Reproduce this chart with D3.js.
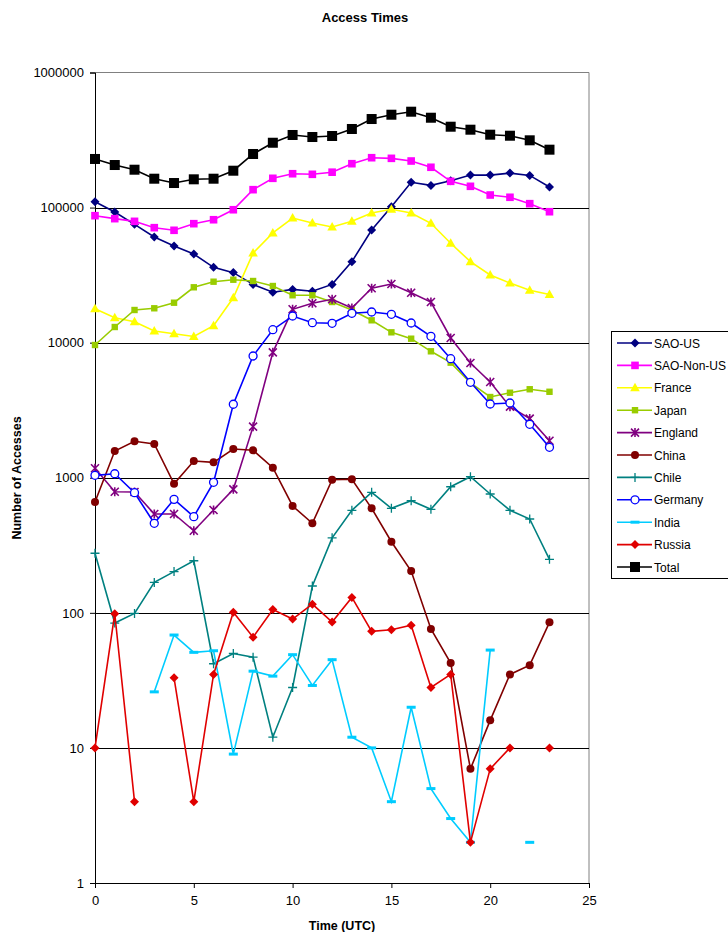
<!DOCTYPE html>
<html>
<head>
<meta charset="utf-8">
<script src="https://cdn.jsdelivr.net/npm/d3@7"></script>
<style>
  body { margin: 0; background: #fff; }
  text { font-family: "Liberation Sans", Arial, sans-serif; }
</style>
</head>
<body>
<div id="chart"></div>
<script>
// data (accesses per UTC hour)
var hours = [0, 1, 2, 3, 4, 5, 6, 7, 8, 9, 10, 11, 12, 13, 14, 15, 16, 17, 18, 19, 20, 21, 22, 23];

var saoUS = [110500, 92800, 75200, 60600, 51900, 45300, 36100, 33000, 27000, 23600, 24800, 24000, 27000, 39800, 68200, 101500, 154000, 146000, 158000, 174000, 174000, 180000, 173000, 142000];
var saoNonUS = [87100, 82800, 79100, 71000, 67900, 76000, 81300, 96400, 135700, 164700, 178100, 176300, 182800, 211300, 234000, 231500, 221200, 198800, 156500, 143700, 123900, 119200, 106900, 93200];
var france = [17800, 15300, 14300, 12200, 11650, 11100, 13350, 21500, 46100, 64900, 83700, 76900, 71800, 79100, 91200, 97100, 91200, 76500, 54400, 39800, 31700, 27600, 24400, 22700];
var japan = [9610, 13060, 17450, 17970, 19760, 25700, 28270, 29240, 28610, 26270, 22430, 22430, 20000, 17450, 14640, 11930, 10700, 8630, 7110, 5030, 3960, 4260, 4520, 4330];
var england = [1175, 788, 784, 539, 539, 405, 577, 821, 2390, 8480, 17660, 19560, 20940, 18060, 25260, 27190, 23440, 20000, 10830, 7070, 5115, 3360, 2740, 1880];
var china = [661, 1578, 1862, 1778, 903, 1330, 1301, 1633, 1596, 1187, 618, 460, 966, 974, 594, 336, 204, 76, 42.5, 7, 16, 35, 41, 85];
var chile = [276, 84, 99, 168, 202, 243, 42, 50, 47, 12, 28, 158, 359, 574, 780, 594, 676, 584, 858, 1018, 758, 574, 495, 249];
var germany = [1042, 1071, 775, 460, 692, 515, 925, 3500, 7965, 12470, 15750, 14060, 13910, 16490, 16870, 16220, 13980, 11140, 7607, 5088, 3515, 3575, 2488, 1680];
var india = [null, null, null, 26, 68.5, 51, 52.4, 9, 37, 34, 49, 29, 45, 12, 10, 4, 20, 5, 3, 2, 53, null, 2, null];
var russia = [10, 98.5, 4, null, 33, 4, 35, 101, 66, 106, 90, 116, 85.5, 130, 73, 75, 81, 28, 35, 2, 7, 10, null, 10];
var total = [229000, 206600, 190700, 163600, 152000, 161900, 163600, 187500, 249300, 302000, 344700, 333000, 338800, 381800, 452500, 487000, 512600, 462600, 396900, 377200, 346400, 340400, 314800, 268300];

var seriesNames = ["SAO-US", "SAO-Non-US", "France", "Japan", "England", "China", "Chile", "Germany", "India", "Russia", "Total"];
var yTicks = [1, 10, 100, 1000, 10000, 100000, 1000000];
var xTicks = [0, 5, 10, 15, 20, 25];

var series = [
  {name: seriesNames[0], values: saoUS, color: "#000080", marker: "diamond"},
  {name: seriesNames[1], values: saoNonUS, color: "#ff00ff", marker: "square"},
  {name: seriesNames[2], values: france, color: "#ffff00", marker: "triangle"},
  {name: seriesNames[3], values: japan, color: "#99cc00", marker: "smallsquare"},
  {name: seriesNames[4], values: england, color: "#800080", marker: "star"},
  {name: seriesNames[5], values: china, color: "#800000", marker: "dot"},
  {name: seriesNames[6], values: chile, color: "#008080", marker: "plus"},
  {name: seriesNames[7], values: germany, color: "#0000ff", marker: "ring"},
  {name: seriesNames[8], values: india, color: "#00ccff", marker: "dash"},
  {name: seriesNames[9], values: russia, color: "#e00000", marker: "diamond"},
  {name: seriesNames[10], values: total, color: "#000000", marker: "bigsquare"}
];

var marg = {top: 72.5, right: 139, bottom: 49, left: 95};
var W = 728, H = 932;
var width = W - marg.left - marg.right;
var height = H - marg.top - marg.bottom;

var svg = d3.select("#chart")
  .append("svg")
    .attr("width", W)
    .attr("height", H);

var x = d3.scaleLinear().domain([0, 25]).range([marg.left, marg.left + width]);
var y = d3.scaleLog().domain([1, 1000000]).range([marg.top + height, marg.top]);

// plot frame (top + right in grey)
svg.append("path")
  .attr("d", "M" + x(0) + "," + y(1000000) + "H" + x(25) + "V" + y(1))
  .attr("fill", "none")
  .attr("stroke", "#808080")
  .attr("stroke-width", 1);

// gridlines
svg.append("g")
  .selectAll("line")
  .data(yTicks.slice(1, -1))
  .enter()
  .append("line")
    .attr("x1", x(0))
    .attr("x2", x(25))
    .attr("y1", function(d){ return Math.round(y(d)) + 0.5; })
    .attr("y2", function(d){ return Math.round(y(d)) + 0.5; })
    .attr("stroke", "#000")
    .attr("stroke-width", 1);

// axes
var yAxis = svg.append("g")
  .attr("transform", "translate(" + x(0) + ",0)")
  .call(d3.axisLeft(y).tickValues(yTicks).tickFormat(d3.format("d")).tickSize(5).tickPadding(6));
var xAxis = svg.append("g")
  .attr("transform", "translate(0," + y(1) + ")")
  .call(d3.axisBottom(x).tickValues(xTicks).tickSize(5).tickPadding(8));

[yAxis, xAxis].forEach(function(a){
  a.select(".domain").attr("stroke", "#000");
  a.selectAll(".tick line").attr("stroke", "#000");
  a.selectAll("text").attr("font-size", 13).attr("fill", "#000")
    .attr("font-family", "Liberation Sans, Arial, sans-serif");
});

// marker shapes
function drawMarker(g, type, color) {
  if (type == "diamond") {
    g.append("path").attr("d", "M0,-4.5L4.5,0L0,4.5L-4.5,0Z").attr("fill", color);
  } else if (type == "square") {
    g.append("rect").attr("x", -3.8).attr("y", -3.8).attr("width", 7.6).attr("height", 7.6).attr("fill", color);
  } else if (type == "smallsquare") {
    g.append("rect").attr("x", -3.2).attr("y", -3.2).attr("width", 6.4).attr("height", 6.4).attr("fill", color);
  } else if (type == "bigsquare") {
    g.append("rect").attr("x", -5).attr("y", -5).attr("width", 10).attr("height", 10).attr("fill", color);
  } else if (type == "triangle") {
    g.append("path").attr("d", "M0,-5L4.8,3.5L-4.8,3.5Z").attr("fill", color);
  } else if (type == "star") {
    g.append("path").attr("d", "M-4,-4L4,4M-4,4L4,-4M0,-4.5V4.5")
      .attr("stroke", color).attr("stroke-width", 1.6).attr("fill", "none");
  } else if (type == "dot") {
    g.append("circle").attr("r", 4).attr("fill", color);
  } else if (type == "plus") {
    g.append("path").attr("d", "M-4.5,0H4.5M0,-4.5V4.5")
      .attr("stroke", color).attr("stroke-width", 1.3).attr("fill", "none");
  } else if (type == "ring") {
    g.append("circle").attr("r", 4).attr("fill", "#fff").attr("stroke", color).attr("stroke-width", 1.3);
  } else if (type == "dash") {
    g.append("rect").attr("x", -4.5).attr("y", -1.5).attr("width", 9).attr("height", 3).attr("fill", color);
  }
}

var line = d3.line()
  .defined(function(d){ return d.v != null; })
  .x(function(d){ return x(d.h); })
  .y(function(d){ return y(d.v); });

// lines + markers, in legend order (Total on top)
series.forEach(function(s){
  var pts = hours.map(function(h, i){ return {h: h, v: s.values[i]}; });
  svg.append("path")
    .datum(pts)
    .attr("d", line)
    .attr("fill", "none")
    .attr("stroke", s.color)
    .attr("stroke-width", 1.6);

  svg.append("g")
    .selectAll("g")
    .data(pts.filter(function(d){ return d.v != null; }))
    .enter()
    .append("g")
      .attr("transform", function(d){ return "translate(" + x(d.h) + "," + y(d.v) + ")"; })
      .each(function(){ drawMarker(d3.select(this), s.marker, s.color); });
});

// titles
svg.append("text")
  .attr("x", 365).attr("y", 22)
  .attr("text-anchor", "middle")
  .attr("font-size", 13).attr("font-weight", "bold")
  .text("Access Times");

svg.append("text")
  .attr("x", 342).attr("y", 930)
  .attr("text-anchor", "middle")
  .attr("font-size", 12.5).attr("font-weight", "bold")
  .text("Time (UTC)");

svg.append("text")
  .attr("transform", "translate(21,478) rotate(-90)")
  .attr("text-anchor", "middle")
  .attr("font-size", 12.5).attr("font-weight", "bold")
  .text("Number of Accesses");

// legend
var leg = svg.append("g");
leg.append("rect")
  .attr("x", 611.5).attr("y", 331.5)
  .attr("width", 130).attr("height", 247)
  .attr("fill", "#fff").attr("stroke", "#000");

var item = leg.selectAll(".item")
  .data(series)
  .enter()
  .append("g")
    .attr("class", "item")
    .attr("transform", function(d, i){ return "translate(0," + (343 + i * 22.4) + ")"; });

item.append("line")
  .attr("x1", 617).attr("x2", 652)
  .attr("stroke", function(d){ return d.color; })
  .attr("stroke-width", 1.6);
item.append("g")
  .attr("transform", "translate(635,0)")
  .each(function(d){ drawMarker(d3.select(this), d.marker, d.color); });
item.append("text")
  .attr("x", 654).attr("y", 4.5)
  .attr("font-size", 12)
  .text(function(d){ return d.name; });
</script>
</body>
</html>
